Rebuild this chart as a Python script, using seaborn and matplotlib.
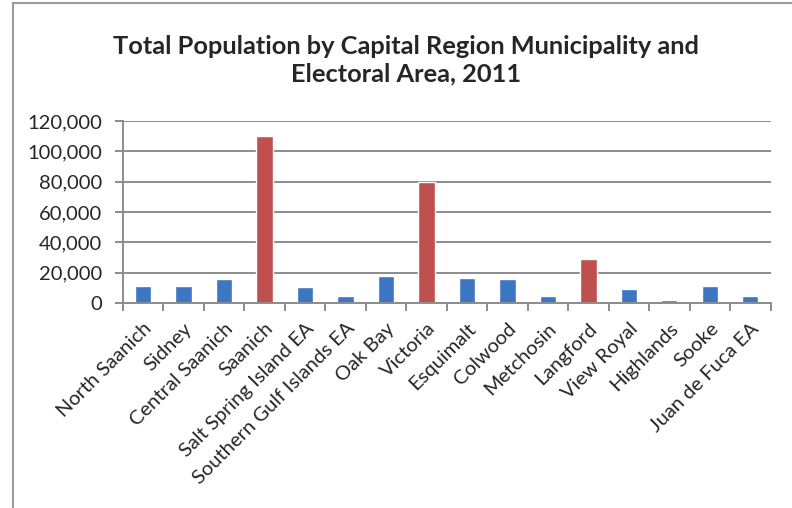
import matplotlib
matplotlib.use('Agg')
import matplotlib.pyplot as plt
import seaborn as sns
import pandas as pd
from matplotlib.ticker import FuncFormatter, MultipleLocator
from matplotlib.patches import Rectangle

areas = ['North Saanich', 'Sidney', 'Central Saanich', 'Saanich', 'Salt Spring Island EA',
         'Southern Gulf Islands EA', 'Oak Bay', 'Victoria', 'Esquimalt', 'Colwood',
         'Metchosin', 'Langford', 'View Royal', 'Highlands', 'Sooke', 'Juan de Fuca EA']
population = [11089, 11178, 15936, 109752, 10234, 4692, 18015, 80017, 16209, 16093,
              4803, 29228, 9381, 2120, 11435, 4391]
highlight = ['Saanich', 'Victoria', 'Langford']

df = pd.DataFrame({'area': areas, 'population': population})
df['group'] = ['big' if a in highlight else 'other' for a in areas]

sns.set_style('white')
plt.rcParams['font.family'] = ['Lato', 'DejaVu Sans']

fig = plt.figure(figsize=(7.92, 5.08), dpi=100)
ax = fig.add_axes([0.155, 0.4035, 0.818, 0.3585])

sns.barplot(data=df, x='area', y='population', hue='group',
            palette={'big': '#c0504d', 'other': '#3d76c2'},
            width=0.4, dodge=False, legend=False, ax=ax, saturation=1)

ax.set_ylim(0, 120000)
ax.set_xlim(-0.5, len(areas) - 0.5)
ax.yaxis.set_major_locator(MultipleLocator(20000))
ax.yaxis.set_major_formatter(FuncFormatter(lambda v, p: f'{int(v):,}'))
ax.grid(True, axis='y', color='#8c8c8c', linewidth=1.4)
ax.set_axisbelow(True)
ax.set_xlabel('')
ax.set_ylabel('')

for s in ['top', 'right']:
    ax.spines[s].set_visible(False)
for s in ['left', 'bottom']:
    ax.spines[s].set_color('#8c8c8c')
    ax.spines[s].set_linewidth(1.4)

ax.tick_params(axis='y', which='major', length=6, color='#8c8c8c', width=1.4,
               labelsize=14.5, direction='out', left=True, pad=9)
ax.set_xticks(range(len(areas)))
ax.set_xticklabels(areas, rotation=45, ha='right', rotation_mode='anchor', fontsize=14.5)
ax.tick_params(axis='x', which='major', length=0, pad=12)
ax.set_xticks([i - 0.5 for i in range(len(areas) + 1)], minor=True)
ax.tick_params(axis='x', which='minor', length=6, color='#8c8c8c', width=1.4,
               direction='out', bottom=True)

fig.text(0.513, 0.882, 'Total Population by Capital Region Municipality and\nElectoral Area, 2011',
         ha='center', va='center', fontsize=18.3, fontweight='bold', linespacing=1.25)

fig.patches.append(Rectangle((0.0164, -0.1), 1.2, 1.094, transform=fig.transFigure,
                             fill=False, edgecolor='#9a9a9a', linewidth=1.5))

fig.savefig('out.png', dpi=100)
